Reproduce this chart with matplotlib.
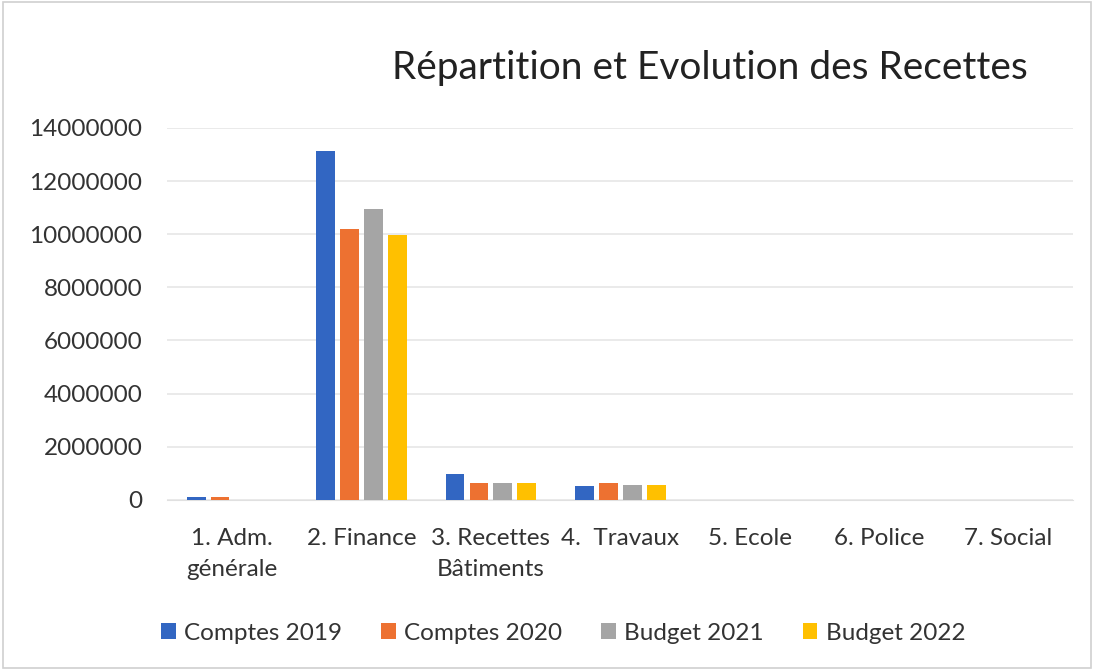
import matplotlib
matplotlib.use("Agg")
import matplotlib.pyplot as plt
import numpy as np

plt.rcParams['font.family'] = ['Lato', 'DejaVu Sans']

categories = ["1. Adm.\ngénérale", "2. Finance", "3. Recettes\nBâtiments", "4.  Travaux",
              "5. Ecole", "6. Police", "7. Social"]
series_names = ["Comptes 2019", "Comptes 2020", "Budget 2021", "Budget 2022"]
comptes_2019 = [100000, 13150000, 980000, 530000, 0, 0, 0]
comptes_2020 = [100000, 10200000, 620000, 640000, 0, 0, 0]
budget_2021 = [0, 10960000, 620000, 560000, 0, 0, 0]
budget_2022 = [0, 9970000, 620000, 560000, 0, 0, 0]
yticks = [0, 2000000, 4000000, 6000000, 8000000, 10000000, 12000000, 14000000]

colors = ["#3266C2", "#ED7131", "#A5A5A5", "#FFC000"]
series = [comptes_2019, comptes_2020, budget_2021, budget_2022]

fig = plt.figure(figsize=(10.94, 6.7), dpi=100)
ax = fig.add_axes([0.153, 0.254, 0.828, 0.555])

x = np.arange(len(categories))
step = 0.185
width = 0.145
for i, (vals, c, name) in enumerate(zip(series, colors, series_names)):
    ax.bar(x + (i - 1.5) * step, vals, width=width, color=c, label=name, zorder=3)

fs = 17.5
ax.set_xlim(-0.5, len(categories) - 0.5)
ax.set_ylim(0, 14000000)
ax.set_yticks(yticks)
ax.set_yticklabels([str(v) for v in yticks], fontsize=fs, color="#333333")
ax.set_xticks(x)
ax.set_xticklabels(categories, fontsize=fs, color="#333333", linespacing=1.6)
ax.tick_params(axis='x', length=0, pad=20)
ax.tick_params(axis='y', length=0, pad=18)
ax.grid(axis='y', color="#E6E6E6", linewidth=1.2, zorder=0)
for s in ["top", "right", "left"]:
    ax.spines[s].set_visible(False)
ax.spines["bottom"].set_color("#E0E0E0")

fig.text(0.649, 0.898, "Répartition et Evolution des Recettes", fontsize=28,
         ha="center", va="center", color="#222222")

leg = fig.legend(loc="center", bbox_to_anchor=(0.515, 0.055), ncol=4, frameon=False,
                 fontsize=fs, handlelength=0.6, handleheight=0.6, columnspacing=1.6,
                 handletextpad=0.35)
for t in leg.get_texts():
    t.set_color("#333333")

border = plt.Rectangle((0.003, 0.003), 0.994, 0.994, transform=fig.transFigure,
                       fill=False, edgecolor="#D0D0D0", linewidth=1.2)
fig.add_artist(border)

fig.savefig("out.png", dpi=100)
